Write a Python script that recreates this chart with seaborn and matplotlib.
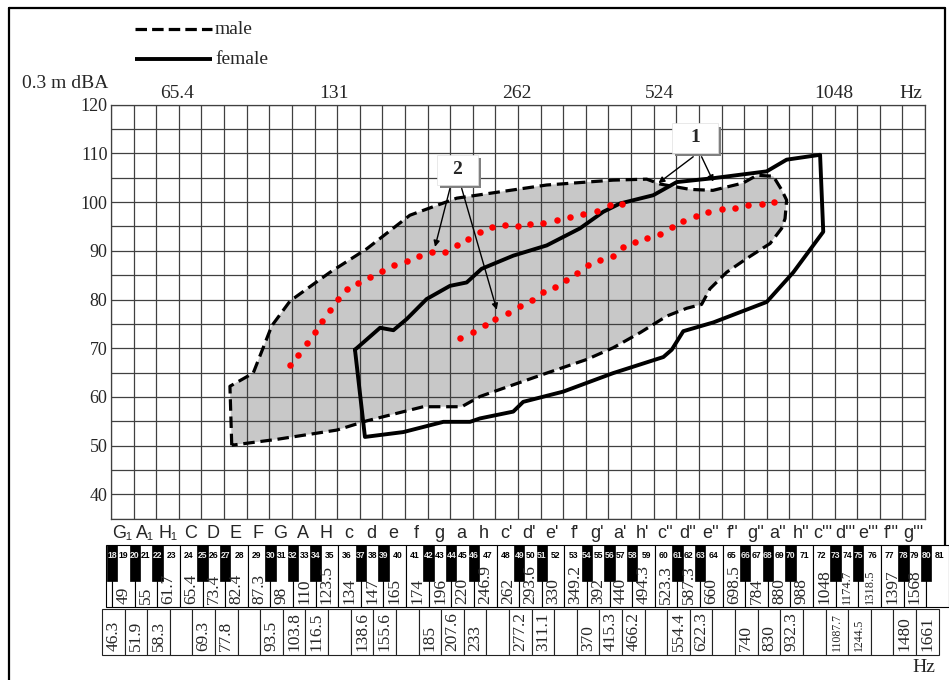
import matplotlib
matplotlib.use("Agg")
import matplotlib.pyplot as plt
import seaborn as sns
from matplotlib.patches import Rectangle

# ---------------- data (x = white-key column index from G1, y = dBA) ----------------
male_x = [5.34, 5.26, 6.29, 7.11, 7.92, 9.69, 11.31, 13.22, 15.29, 16.76, 19.27, 22.21, 23.69, 24.28,
          25.61, 26.62, 27.95, 28.57, 29.29, 29.66, 29.88, 29.81, 29.66, 29.15, 28.11, 27.23, 26.49,
          26.12, 25.46, 24.58, 23.40, 22.21, 21.04, 19.27, 17.79, 16.32, 15.51, 13.81, 11.31, 9.98,
          7.33, 5.34]
male_y = [50.1, 62.2, 64.9, 74.6, 79.7, 85.6, 90.4, 97.3, 100.8, 101.8, 103.5, 104.5, 104.7, 103.7,
          102.6, 102.4, 103.9, 105.5, 105.3, 102.5, 100.4, 96.6, 94.6, 91.5, 88.4, 85.6, 82.2,
          79.0, 78.2, 76.6, 73.2, 70.1, 67.7, 64.9, 62.5, 60.1, 58.0, 58.0, 55.1, 53.2,
          51.3, 50.1]

female_x = [10.79, 11.31, 11.90, 12.49, 13.08, 13.96, 14.99, 15.73, 16.39, 17.79, 19.27, 20.74,
            21.77, 22.51, 23.98, 25.02, 26.64, 29.00, 29.88, 31.36, 31.50, 30.18, 29.00, 26.64,
            25.31, 24.80, 24.43, 22.21, 20.00, 18.23, 17.79, 16.32, 15.88, 14.70, 12.93, 11.23, 10.79]
female_y = [69.7, 71.8, 74.2, 73.7, 76.0, 80.1, 82.8, 83.5, 86.3, 89.0, 91.1, 94.6,
            98.0, 99.7, 101.4, 104.1, 104.9, 106.3, 108.7, 109.7, 93.9, 85.6, 79.5, 75.3,
            73.5, 69.7, 68.2, 64.9, 61.1, 59.0, 57.0, 55.6, 54.9, 54.9, 52.8, 51.8, 69.7]

red1_x = [7.92, 8.28, 8.66, 9.02, 9.35, 9.69, 10.05, 10.42, 10.94, 11.45, 11.97, 12.52, 13.08, 13.63,
          14.18, 14.77, 15.29, 15.80, 16.32, 16.84, 17.43, 18.01, 18.53, 19.12, 19.71, 20.30, 20.89,
          21.48, 22.07, 22.59]
red1_y = [66.6, 68.7, 71.1, 73.4, 75.6, 77.8, 80.1, 82.2, 83.4, 84.7, 85.9, 87.1, 88.0, 88.9,
          89.7, 89.7, 91.1, 92.5, 93.9, 94.9, 95.2, 95.1, 95.5, 95.8, 96.3, 97.0, 97.5,
          98.2, 99.3, 99.7]

red2_x = [15.43, 16.00, 16.54, 16.98, 17.57, 18.09, 18.61, 19.12, 19.64, 20.12, 20.62, 21.11, 21.63,
          22.19, 22.66, 23.17, 23.72, 24.28, 24.80, 25.31, 25.87, 26.42, 27.01, 27.60, 28.19, 28.78,
          29.34]
red2_y = [72.2, 73.4, 74.7, 76.0, 77.3, 78.6, 79.9, 81.5, 82.5, 84.0, 85.5, 87.1, 88.2,
          89.0, 90.8, 91.8, 92.7, 93.5, 94.9, 96.1, 97.2, 98.0, 98.6, 98.8, 99.3, 99.5,
          100.1]

y_ticks = [40, 50, 60, 70, 80, 90, 100, 110, 120]
top_freq_labels = ["65.4", "131", "262", "524", "1048", "Hz"]

note_names = ["G\u2081", "A\u2081", "H\u2081", "C", "D", "E", "F", "G", "A", "H",
              "c", "d", "e", "f", "g", "a", "h",
              "c'", "d'", "e'", "f'", "g'", "a'", "h'",
              "c''", "d''", "e''", "f''", "g''", "a''", "h''",
              "c'''", "d'''", "e'''", "f'''", "g'''"]

white_key_nums = [19, 21, 23, 24, 26, 28, 29, 31, 33, 35, 36, 38, 40, 41, 43, 45, 47,
                  48, 50, 52, 53, 55, 57, 59, 60, 62, 64, 65, 67, 69, 71, 72, 74, 76, 77, 79, 81]
black_key_nums = [18, 20, 22, None, 25, 27, None, 30, 32, 34, None, 37, 39, None, 42, 44, 46, None,
                  49, 51, None, 54, 56, 58, None, 61, 63, None, 66, 68, 70, None, 73, 75, None, 78, 80]

white_freqs = ["49", "55", "61.7", "65.4", "73.4", "82.4", "87.3", "98", "110", "123.5",
               "134", "147", "165", "174", "196", "220", "246.9",
               "262", "293.6", "330", "349.2", "392", "440", "494.3",
               "523.3", "587.3", "660", "698.5", "784", "880", "988",
               "1048", "1174.7", "1318.5", "1397", "1568", ""]
black_freqs = ["46.3", "51.9", "58.3", "", "69.3", "77.8", "", "93.5", "103.8", "116.5", "",
               "138.6", "155.6", "", "185", "207.6", "233", "", "277.2", "311.1", "",
               "370", "415.3", "466.2", "", "554.4", "622.3", "", "740", "830", "932.3", "",
               "11087.7", "1244.5", "", "1480", "1661"]
small_labels = {"1174.7", "1318.5", "11087.7", "1244.5"}

# ---------------- figure ----------------
sns.set_style("white")
plt.rcParams["font.family"] = ["Liberation Serif", "DejaVu Serif"]
W, H = 949, 680
fig = plt.figure(figsize=(W / 100, H / 100), dpi=100)
fig.patch.set_facecolor("white")


def fx(px):
    return px / W


def fy(py):
    return 1 - py / H


# overlay axes in pixel units for page furniture
ov = fig.add_axes([0, 0, 1, 1], zorder=-1)
ov.set_xlim(0, W)
ov.set_ylim(H, 0)
ov.axis("off")
ov.plot([9, 9], [7.5, H], color="black", lw=1.6)
ov.plot([9, 945], [7.5, 7.5], color="black", lw=1.6)
ov.plot([945, 945], [7.5, 545], color="black", lw=1.6)
ov.plot([135, 212], [29, 29], color="black", lw=2.3, linestyle=(0, (3.6, 1.6)))
ov.text(215, 29, "male", va="center", ha="left", fontsize=14)
ov.plot([135, 212], [59, 59], color="black", lw=2.8, solid_capstyle="butt")
ov.text(215, 59, "female", va="center", ha="left", fontsize=14)
ov.text(22, 84, "0.3 m dBA", va="center", ha="left", fontsize=14)
for px, lab in zip([177.5, 334, 517, 660, 834, 911], top_freq_labels):
    ov.text(px, 93, lab, ha="center", va="center", fontsize=14)
ov.text(924, 668, "Hz", ha="center", va="center", fontsize=14)

# main chart
ax = fig.add_axes([fx(111), fy(518.8), (925 - 111) / W, (518.8 - 104.6) / H])
ax.set_xlim(0, 36)
ax.set_ylim(35, 120)
grid_c = "#404040"
for v in range(0, 37):
    ax.axvline(v, color=grid_c, lw=0.9, zorder=1)
for v in range(35, 121, 5):
    ax.axhline(v, color=grid_c, lw=0.9, zorder=1)
for s in ax.spines.values():
    s.set_color(grid_c)
    s.set_linewidth(0.9)
ax.set_xticks([])
ax.set_yticks(y_ticks)
ax.set_yticklabels([str(t) for t in y_ticks], fontsize=13)
ax.tick_params(axis="y", length=0, pad=2.5)
ax.set_xlabel("")
ax.set_ylabel("")

ax.fill(male_x, male_y, color="#c8c8c8", lw=0, zorder=0.5)
sns.lineplot(x=male_x, y=male_y, sort=False, estimator=None, color="black", lw=2.3,
             linestyle=(0, (3.6, 1.8)), ax=ax, zorder=3)
sns.lineplot(x=female_x, y=female_y, sort=False, estimator=None, color="black", lw=2.8,
             ax=ax, zorder=3.5)
sns.scatterplot(x=red1_x, y=red1_y, color="#ff0000", s=22, linewidth=0, ax=ax, zorder=5)
sns.scatterplot(x=red2_x, y=red2_y, color="#ff0000", s=22, linewidth=0, ax=ax, zorder=5)


def callout(x0, x1, y0, y1, label, arrows):
    ax.add_patch(Rectangle((x0 + 0.14, y0 - 0.7), x1 - x0, y1 - y0, facecolor="#808080",
                           lw=0, zorder=6))
    ax.add_patch(Rectangle((x0, y0), x1 - x0, y1 - y0, facecolor="white", edgecolor="#e0e0e0",
                           lw=0.5, zorder=7))
    ax.text((x0 + x1) / 2, (y0 + y1) / 2, label, ha="center", va="center", fontsize=14,
            fontweight="bold", zorder=8)
    for (sx, sy), (ex, ey) in arrows:
        ax.annotate("", xy=(ex, ey), xytext=(sx, sy),
                    arrowprops=dict(arrowstyle="-|>", color="black", lw=1.0, shrinkA=0,
                                    shrinkB=0, mutation_scale=9), zorder=8)


callout(14.42, 16.23, 103.5, 109.7, "2",
        [((14.99, 102.8), (14.33, 90.8)), ((15.51, 102.8), (17.06, 77.9))])
callout(24.81, 26.85, 110.1, 116.2, "1",
        [((25.75, 109.3), (24.21, 103.9)), ((26.12, 109.3), (26.64, 104.2))])

# keyboard strip
kb = fig.add_axes([fx(111), 0, (925 - 111) / W, (H - 520) / H])
kb.set_xlim(0, 36)
kb.set_ylim(H, 520)
kb.axis("off")
off = 0.05
bw = 0.23
sans = ["Liberation Sans", "DejaVu Sans"]
for i, nm in enumerate(note_names):
    kb.text(i + 0.5, 533.5, nm, ha="center", va="center", fontsize=13, family=sans)

kb.add_patch(Rectangle((off - 0.25, 545), 0.25, 62, facecolor="white", edgecolor="black",
                       lw=0.8, clip_on=False, zorder=1))
for i in range(37):
    kb.add_patch(Rectangle((i + off, 545), 1, 62, facecolor="white", edgecolor="black",
                           lw=0.8, clip_on=False, zorder=1))
for k, num in enumerate(black_key_nums):
    if num is None:
        continue
    kb.add_patch(Rectangle((k + off - bw, 545), 2 * bw, 36, facecolor="black", edgecolor="black",
                           lw=0.5, clip_on=False, zorder=2))
    kb.text(k + off, 556, str(num), ha="center", va="center", fontsize=6.2, fontweight="bold",
            color="#e8e8e8", family=sans, fontstretch="condensed", clip_on=False, zorder=5)
for i, num in enumerate(white_key_nums):
    left = i + off + (bw if i < len(black_key_nums) and black_key_nums[i] is not None else 0)
    right = i + 1 + off - (bw if i + 1 < len(black_key_nums) and black_key_nums[i + 1] is not None else 0)
    kb.text((left + right) / 2, 556, str(num), ha="center", va="center", fontsize=6.2,
            fontweight="bold", color="black", family=sans, fontstretch="condensed",
            clip_on=False, zorder=5)
for i, lab in enumerate(white_freqs):
    if not lab:
        continue
    fs = 9 if lab in small_labels else 12.5
    kb.text(i + off + 0.5, 604.5, lab, rotation=90, ha="center", va="bottom", fontsize=fs,
            clip_on=False, zorder=4)

# black-key frequency row
for k, lab in enumerate(black_freqs):
    cx = k + off + 0.05
    kb.add_patch(Rectangle((cx - 0.5, 609), 1, 46, facecolor="white", edgecolor="#222222",
                           lw=0.8, clip_on=False, zorder=1))
    if lab:
        fs = 8.5 if lab in small_labels else 12.5
        kb.text(cx, 651, lab, rotation=90, ha="center", va="bottom", fontsize=fs,
                clip_on=False, zorder=4)

fig.savefig("out.png", dpi=100)
